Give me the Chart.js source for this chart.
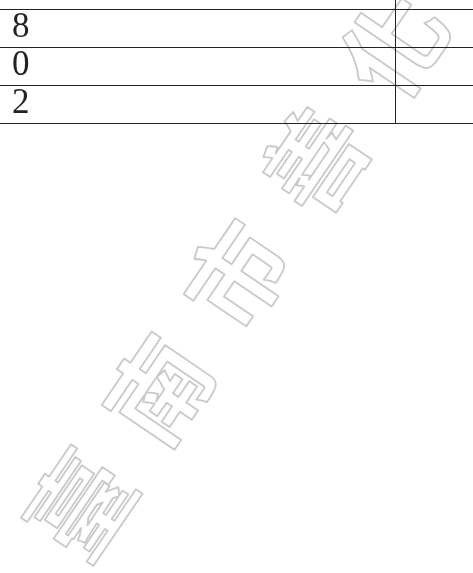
<!DOCTYPE html>
<html><head><meta charset="utf-8">
<script src="https://cdn.jsdelivr.net/npm/chart.js@4.4.1/dist/chart.umd.min.js"></script>
<style>html,body{margin:0;padding:0;background:#fff;overflow:hidden}#wrap{width:473px;height:573px;position:relative}</style>
</head><body><div id="wrap"><canvas id="c"></canvas></div>
<script>
// Row labels of the table fragment (first column), top to bottom
const rowLabels = ["8", "0", "2"];
// Second column is empty in the visible fragment
const secondColumn = [null, null, null];
// Watermark text
const watermarkChars = ["臺", "南", "市", "善", "化"];

const bgAndWatermark = {
  id: 'bgAndWatermark',
  beforeDraw(chart) {
    const ctx = chart.ctx;
    ctx.save();
    ctx.fillStyle = '#fff';
    ctx.fillRect(0, 0, chart.width, chart.height);
    const ang = Math.atan2(-463, 315);
    const cx = chart.width * 0.501, cy = chart.height * 0.48;
    const step = 139;
    ctx.font = 'bold 100px "Noto Sans CJK TC"';
    ctx.textAlign = 'center';
    ctx.textBaseline = 'middle';
    ctx.strokeStyle = '#cacaca';
    ctx.lineWidth = 1.8;
    ctx.lineJoin = 'round';
    watermarkChars.forEach((ch, i) => {
      const d = (i - (watermarkChars.length - 1) / 2) * step;
      ctx.save();
      ctx.translate(cx + Math.cos(ang) * d, cy + Math.sin(ang) * d);
      ctx.rotate(ang);
      ctx.fillStyle = '#fff';
      ctx.fillText(ch, 0, 0);
      ctx.strokeText(ch, 0, 0);
      ctx.restore();
    });
    ctx.restore();
  }
};

const columnDivider = {
  id: 'columnDivider',
  afterDraw(chart) {
    const {ctx, chartArea} = chart;
    const x = Math.round(chartArea.left + (chartArea.right - chartArea.left) * 0.835) + 0.5;
    ctx.save();
    ctx.strokeStyle = '#222';
    ctx.lineWidth = 1;
    ctx.beginPath();
    ctx.moveTo(x, 0);
    ctx.lineTo(x, chartArea.bottom);
    ctx.stroke();
    ctx.restore();
  }
};

new Chart(document.getElementById('c'), {
  type: 'bar',
  data: {
    labels: rowLabels,
    datasets: [{ data: secondColumn, backgroundColor: 'rgba(0,0,0,0)' }]
  },
  options: {
    indexAxis: 'y',
    responsive: true,
    maintainAspectRatio: false,
    animation: false,
    events: [],
    layout: { padding: { top: 9, bottom: 450, left: 0, right: 0 } },
    plugins: { legend: { display: false }, tooltip: { enabled: false } },
    scales: {
      x: { display: false, min: 0, max: 1 },
      y: {
        type: 'category',
        position: 'left',
        offset: true,
        border: { display: false },
        grid: { offset: true, color: '#222', lineWidth: 1, drawTicks: false },
        afterFit(scale) { scale.paddingTop = 0; scale.paddingBottom = 0; scale.width = 0; },
        ticks: {
          mirror: true,
          autoSkip: false,
          padding: 12,
          color: '#222',
          font: { family: '"Liberation Serif", serif', size: 35, lineHeight: 1 }
        }
      }
    }
  },
  plugins: [bgAndWatermark, columnDivider]
});
</script>
</body></html>
